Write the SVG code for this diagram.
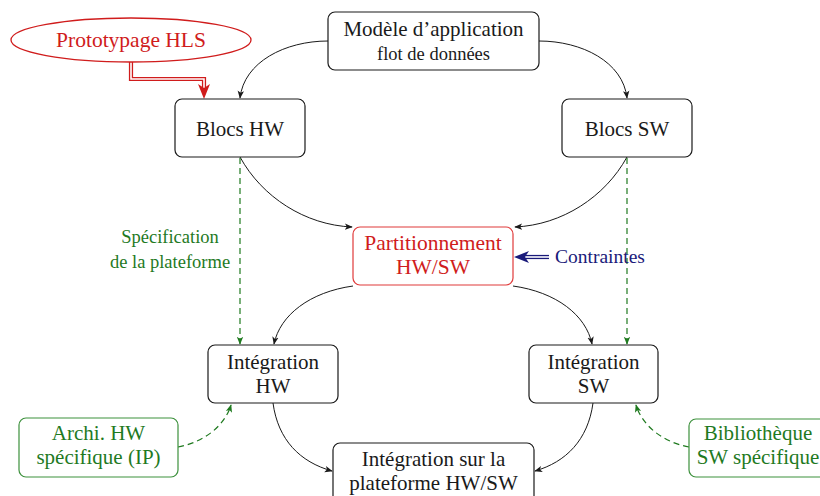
<svg xmlns="http://www.w3.org/2000/svg" width="820" height="496" viewBox="0 0 820 496">
<defs>
<style>
text{font-family:"Liberation Serif","Times New Roman",serif;text-anchor:middle}
.t{font-size:21px;fill:#1a1a1a}
.s{font-size:18.5px}
.box{fill:#fff;stroke:#1a1a1a;stroke-width:1.2}
.red{fill:#d01c1c}
.grn{fill:#1f7a1f}
.gbox{fill:#fff;stroke:#3d913d;stroke-width:1.2}
.edge{fill:none;stroke:#1a1a1a;stroke-width:1}
.dash{fill:none;stroke:#1f7a1f;stroke-width:1.2;stroke-dasharray:6 4}
</style>
<marker id="ab" viewBox="0 0 10 10" refX="9" refY="5" markerWidth="8" markerHeight="8" markerUnits="userSpaceOnUse" orient="auto">
<path d="M0,1 L10,5 L0,9 L2.5,5 Z" fill="#1a1a1a"/>
</marker>
<marker id="ag" viewBox="0 0 10 10" refX="9" refY="5" markerWidth="8" markerHeight="8" markerUnits="userSpaceOnUse" orient="auto">
<path d="M0,1 L10,5 L0,9 L2.5,5 Z" fill="#1f7a1f"/>
</marker>
</defs>
<rect width="820" height="496" fill="#fff"/>

<g id="connectors">
<path class="edge" marker-end="url(#ab)" d="M328,41 C285,41 244,62 240,98"/>
<path class="edge" marker-end="url(#ab)" d="M539,41 C582,41 623,62 627,98"/>
<path class="edge" marker-end="url(#ab)" d="M240,157 C262,197 305,225 352,227"/>
<path class="edge" marker-end="url(#ab)" d="M627,157 C605,197 562,225 515,227"/>
<path class="edge" marker-end="url(#ab)" d="M353,286 C310,292 280,315 274,344"/>
<path class="edge" marker-end="url(#ab)" d="M513,286 C556,292 586,315 592,344"/>
<path class="edge" marker-end="url(#ab)" d="M273,403 C278,440 300,462 332,471"/>
<path class="edge" marker-end="url(#ab)" d="M593,403 C588,440 566,462 535,471"/>
<path class="dash" marker-end="url(#ag)" d="M240,158 L240,344"/>
<path class="dash" marker-end="url(#ag)" d="M627,158 L627,344"/>
<path class="dash" marker-end="url(#ag)" d="M178,447 C205,442 225,425 231,405"/>
<path class="dash" marker-end="url(#ag)" d="M689,447 C662,442 642,425 636,405"/>
<path d="M131,62 L131,79 L204,79 L204,88" fill="none" stroke="#d01c1c" stroke-width="4.2"/>
<path d="M131,62 L131,79 L204,79 L204,89" fill="none" stroke="#fff" stroke-width="1.6"/>
<path d="M198,84 L204,99 L210,84 L204,88 Z" fill="#d01c1c"/>
<path d="M549,257 L525,257" fill="none" stroke="#1a1a7a" stroke-width="4.2"/>
<path d="M550,257 L524,257" fill="none" stroke="#fff" stroke-width="1.6"/>
<path d="M529,251 L514,257 L529,263 L525,257 Z" fill="#1a1a7a"/>
<text class="grn s" x="170" y="243">Spécification</text>
<text class="grn s" x="170" y="268">de la plateforme</text>
<text x="600" y="263" font-size="19.5" fill="#1a1a7a">Contraintes</text>
</g>

<g id="proto">
<ellipse cx="131" cy="40" rx="120" ry="22" fill="#fff" stroke="#d01c1c" stroke-width="1.3"/>
<text class="red" x="131" y="47" font-size="21.5">Prototypage HLS</text>
</g>

<g id="modele">
<rect class="box" x="328" y="12" width="211" height="58" rx="7"/>
<text class="t" x="433.5" y="36">Modèle d’application</text>
<text class="t s" x="433.5" y="60">flot de données</text>
</g>

<g id="blocshw">
<rect class="box" x="175" y="99" width="130" height="58" rx="7"/>
<text class="t" x="240" y="136">Blocs HW</text>
</g>

<g id="blocssw">
<rect class="box" x="562" y="99" width="130" height="58" rx="7"/>
<text class="t" x="627" y="136">Blocs SW</text>
</g>

<g id="partition">
<rect x="353" y="227" width="160" height="58" rx="7" fill="#fff" stroke="#e03a3a" stroke-width="1.2"/>
<text class="red" x="433" y="250" font-size="21.5">Partitionnement</text>
<text class="red" x="433" y="274" font-size="21.5">HW/SW</text>
</g>

<g id="inthw">
<rect class="box" x="208" y="345" width="130" height="58" rx="7"/>
<text class="t" x="273" y="369">Intégration</text>
<text class="t" x="273" y="393">HW</text>
</g>

<g id="intsw">
<rect class="box" x="529" y="345" width="129" height="58" rx="7"/>
<text class="t" x="593.5" y="369">Intégration</text>
<text class="t" x="593.5" y="393">SW</text>
</g>

<g id="intplat">
<rect class="box" x="333" y="443" width="201" height="70" rx="7"/>
<text class="t" x="433.5" y="466">Intégration sur la</text>
<text class="t" x="433.5" y="490">plateforme HW/SW</text>
</g>

<g id="archi">
<rect class="gbox" x="19" y="418" width="159" height="59" rx="7"/>
<text class="grn" x="98.5" y="440" font-size="21">Archi.  HW</text>
<text class="grn" x="98.5" y="464" font-size="21">spécifique (IP)</text>
</g>

<g id="biblio">
<rect class="gbox" x="689" y="419" width="150" height="58" rx="7"/>
<text class="grn" x="758" y="440" font-size="21">Bibliothèque</text>
<text class="grn" x="758" y="464" font-size="21">SW spécifique</text>
</g>
</svg>
